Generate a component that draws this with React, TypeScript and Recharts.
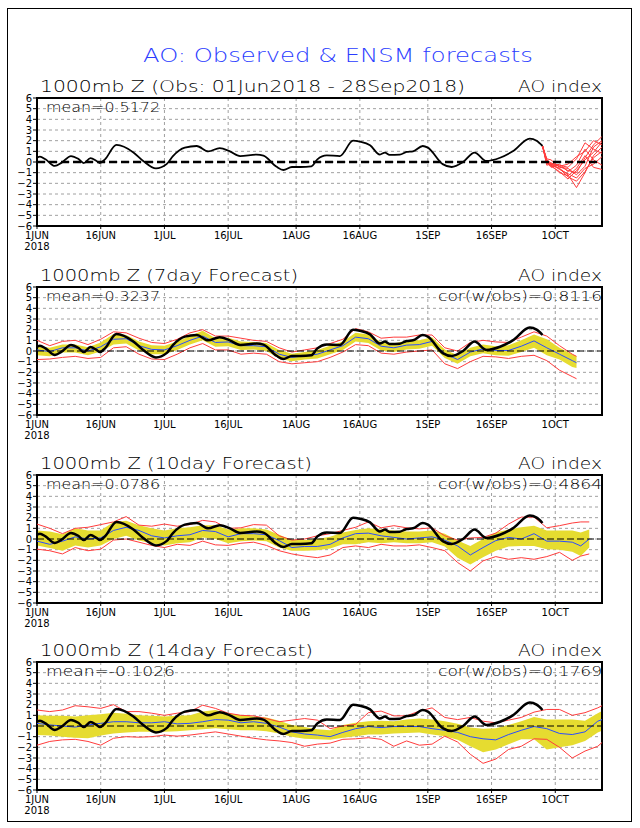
import React from 'react';
import { ComposedChart, Line, Area, XAxis, YAxis, CartesianGrid, ReferenceLine, ReferenceArea } from 'recharts';

// ---------- axes ----------
const X_TICK_DAYS = [0, 15, 30, 45, 61, 76, 92, 107, 122];
const X_TICK_LABELS = ['1JUN', '16JUN', '1JUL', '16JUL', '1AUG', '16AUG', '1SEP', '16SEP', '1OCT'];
const YEAR_LABEL = '2018';
const Y_TICKS = [-6, -5, -4, -3, -2, -1, 0, 1, 2, 3, 4, 5, 6];

// ---------- texts ----------
const MAIN_TITLE = 'AO: Observed & ENSM forecasts';
const PANEL_TITLES = ['1000mb Z (Obs: 01Jun2018 - 28Sep2018)', '1000mb Z (7day Forecast)', '1000mb Z (10day Forecast)', '1000mb Z (14day Forecast)'];
const INDEX_LABEL = 'AO index';
const MEAN_LABELS = ['mean=0.5172', 'mean=0.3237', 'mean=0.0786', 'mean=-0.1026'];
const COR_LABELS = ['', 'cor(w/obs)=0.8116', 'cor(w/obs)=0.4864', 'cor(w/obs)=0.1769'];

// ---------- observed AO (days since 1 Jun 2018) ----------
const OBS_DAYS = [0, 0.7, 2, 4.2, 5.8, 8, 9.7, 11, 12.6, 14, 14.8, 16, 18.7, 22.7, 25, 28, 30.5, 32, 34.8, 37.6, 40.3, 43, 45.4, 47.8, 51.7, 53.3, 56.4, 58, 60, 62, 64.6, 66, 68.2, 71.3, 74.4, 76, 78.4, 80.7, 81.9, 83, 85.4, 87, 88.5, 90.8, 92, 95.5, 97.6, 100.3, 103, 105.8, 109, 112, 116, 117.6, 119];
const OBS_VALUES = [0.4, 0.5, 0.25, -0.37, -0.06, 0.56, 0.3, -0.1, 0.37, 0.1, -0.1, 0.25, 1.6, 0.9, 0.1, -0.6, -0.2, 0.56, 1.35, 1.5, 1.0, 1.3, 1.0, 0.56, 0.7, 0.6, -0.45, -0.75, -0.47, -0.47, -0.4, 0.25, 0.62, 0.56, 2.0, 1.9, 1.56, 0.7, 0.88, 0.66, 0.69, 0.94, 1.0, 1.5, 1.35, -0.2, -0.47, 0.0, 0.88, 0.1, 0.4, 1.0, 2.2, 2.0, 1.5];

// ---------- ensemble members (top panel) ----------
const ENS_DAYS = [119, 120, 121, 123, 125, 127, 129, 131, 133];
const ENS_M1 = [1.5, 0.2, -0.2, -0.4, -0.8, -1.0, 0.4, 1.6, 2.4];
const ENS_M2 = [1.5, 0.0, -0.3, -0.6, -1.2, -2.4, -1.0, 0.6, 1.4];
const ENS_M3 = [1.5, -0.2, -0.1, -0.3, -0.5, 0.3, 1.8, 1.2, 0.8];
const ENS_M4 = [1.5, 0.1, -0.4, -0.9, -1.6, -0.8, 0.2, 0.9, 1.9];
const ENS_M5 = [1.5, -0.3, -0.2, -0.7, -1.1, -1.5, -0.6, -0.2, 0.5];
const ENS_M6 = [1.5, 0.0, -0.5, -0.2, -0.9, -0.3, 1.2, 0.2, -0.3];
const ENS_M7 = [1.5, 0.3, 0.2, -0.5, -0.6, -1.2, -0.4, 1.4, 2.0];
const ENS_M8 = [1.5, -0.1, -0.3, -1.0, -1.3, -0.6, 0.6, -0.5, -0.7];
const ENS_M9 = [1.5, 0.0, -0.2, -0.6, -1.4, -1.8, -0.9, 0.4, 1.0];
const ENS_M10 = [1.5, 0.2, -0.1, -0.4, -0.2, 0.5, 1.0, 2.0, 1.6];

// ---------- 7-day forecast ----------
const FC7_DAYS = [0, 3, 6, 9, 12, 15, 18, 21, 24, 27, 30, 33, 36, 39, 42, 45, 48, 51, 54, 57, 60, 63, 66, 69, 72, 75, 78, 81, 84, 87, 90, 93, 96, 99, 102, 105, 108, 111, 114, 117, 120, 123, 126, 127];
const FC7_MEAN = [0.1, -0.05, 0.3, 0.3, 0.0, 0.4, 1.1, 1.15, 0.5, 0.15, 0.1, 0.5, 1.0, 1.4, 0.8, 0.85, 0.5, 0.5, 0.4, -0.3, -0.6, -0.45, -0.3, 0.1, 0.5, 1.3, 1.15, 0.45, 0.3, 0.55, 0.6, 0.9, -0.25, -0.8, -0.1, 0.2, 0.05, 0.05, 0.45, 0.95, 0.3, -0.3, -0.9, -1.1];
const FC7_BAND_LO = [-0.4, -0.5, -0.15, -0.15, -0.4, -0.05, 0.6, 0.7, 0.05, -0.3, -0.3, 0.1, 0.6, 1.0, 0.4, 0.45, 0.1, 0.15, 0.0, -0.7, -0.95, -0.8, -0.7, -0.3, 0.1, 0.9, 0.75, 0.05, -0.1, 0.15, 0.2, 0.5, -0.65, -1.2, -0.5, -0.2, -0.4, -0.45, -0.1, 0.3, -0.4, -0.8, -1.5, -1.6];
const FC7_BAND_HI = [0.5, 0.3, 0.6, 0.6, 0.35, 0.8, 1.6, 1.5, 0.9, 0.55, 0.5, 0.9, 1.4, 1.9, 1.2, 1.25, 0.9, 0.85, 0.75, 0.1, -0.25, -0.1, 0.1, 0.5, 0.9, 1.7, 1.55, 0.85, 0.7, 0.95, 1.0, 1.3, 0.15, -0.4, 0.3, 0.6, 0.45, 0.55, 1.0, 1.55, 1.1, 0.3, -0.3, -0.5];
const FC7_RED_HI = [1.0, 0.5, 0.9, 1.0, 0.6, 1.1, 1.8, 1.7, 1.2, 0.8, 0.7, 1.1, 1.7, 2.0, 1.4, 1.4, 1.2, 1.0, 0.9, 0.3, -0.1, 0.1, 0.3, 0.7, 1.1, 2.1, 1.8, 1.2, 1.3, 1.3, 1.5, 1.5, 0.3, 0.0, 0.8, 1.0, 0.85, 0.8, 1.3, 1.8, 1.4, 0.5, -0.3, -0.5];
const FC7_RED_LO = [-0.8, -0.75, -0.6, -0.5, -0.7, -0.6, 0.3, 0.4, -0.3, -0.75, -0.8, -0.3, 0.3, 0.7, 0.1, 0.1, -0.3, -0.2, -0.3, -1.0, -1.2, -1.1, -1.0, -0.6, -0.1, 0.6, 0.5, -0.2, -0.3, -0.1, 0.0, 0.1, -1.2, -1.65, -1.0, -0.5, -0.55, -0.7, -0.5, -0.4, -0.9, -1.8, -2.4, -2.6];

// ---------- 10-day forecast ----------
const FC10_DAYS = [0, 3, 6, 9, 12, 15, 18, 21, 24, 27, 30, 33, 36, 39, 42, 45, 48, 51, 54, 57, 60, 63, 66, 69, 72, 75, 78, 81, 84, 87, 90, 93, 96, 99, 102, 105, 108, 111, 114, 117, 120, 123, 126, 128, 130];
const FC10_MEAN = [-0.2, -0.5, -0.2, 0.2, 0.0, 0.1, 0.8, 1.1, 0.8, 0.3, 0.1, 0.3, 0.4, 0.8, 0.7, 0.2, 0.5, 0.5, 0.4, -0.15, -0.8, -0.7, -0.7, -0.5, 0.1, 0.5, 0.55, 0.3, 0.15, 0.0, 0.1, 0.2, -0.1, -0.65, -1.5, -0.8, -0.15, 0.15, 0.0, 0.5, -0.2, -0.2, -0.3, -0.65, 0.0];
const FC10_BAND_LO = [-0.6, -0.85, -1.1, -0.6, -0.8, -0.6, 0.0, 0.3, -0.15, -0.4, -0.6, -0.4, -0.3, 0.15, 0.0, -0.4, -0.2, -0.15, -0.2, -0.8, -1.1, -1.1, -1.05, -0.9, -0.5, -0.5, -0.3, -0.4, -0.3, -0.4, -0.4, -0.3, -0.7, -1.75, -2.4, -1.7, -1.1, -0.7, -0.65, -0.65, -0.95, -1.0, -1.2, -1.6, -0.8];
const FC10_BAND_HI = [0.8, 0.7, 0.45, 1.0, 0.8, 0.8, 1.6, 1.7, 1.3, 1.0, 0.8, 1.0, 1.1, 1.3, 1.3, 0.9, 1.0, 1.0, 0.9, 0.4, -0.1, -0.1, 0.0, 0.2, 0.6, 0.85, 1.0, 0.9, 0.8, 0.7, 0.7, 0.8, 0.5, -0.15, -0.65, 0.0, 0.6, 0.9, 1.1, 1.25, 0.8, 0.8, 0.8, 0.6, 0.9];
const FC10_RED_HI = [1.4, 1.0, 0.5, 1.0, 1.1, 1.35, 1.6, 2.1, 1.3, 1.2, 1.4, 1.2, 1.35, 1.75, 1.6, 1.0, 1.05, 1.35, 1.3, 0.3, -0.1, 0.0, 0.3, 0.5, 0.8, 1.1, 1.6, 1.05, 1.25, 1.05, 0.95, 1.05, 0.3, -0.1, 0.1, 0.15, 0.55, 1.4, 2.05, 2.05, 1.05, 1.25, 1.5, 1.6, 1.6];
const FC10_RED_LO = [-0.95, -1.1, -1.4, -0.8, -1.1, -0.95, -0.1, 0.0, -0.3, -0.6, -0.8, -0.5, -0.6, -0.2, -0.55, -0.6, -0.4, -0.3, -0.6, -1.1, -1.4, -1.6, -1.75, -1.5, -0.8, -0.65, -0.8, -0.5, -0.65, -0.65, -0.55, -0.8, -1.1, -2.2, -3.0, -2.05, -1.65, -1.9, -1.75, -1.9, -1.65, -1.25, -2.0, -1.6, -1.4];

// ---------- 14-day forecast ----------
const FC14_DAYS = [0, 3, 6, 9, 12, 15, 18, 21, 24, 27, 30, 33, 36, 39, 42, 45, 48, 51, 54, 57, 60, 63, 66, 69, 72, 75, 78, 81, 84, 87, 90, 93, 96, 99, 102, 105, 108, 111, 114, 117, 120, 123, 126, 129, 132, 133];
const FC14_MEAN = [0.25, 0.1, 0.0, -0.1, 0.1, 0.25, 0.4, 0.4, 0.3, 0.3, 0.4, 0.2, 0.25, 0.4, 0.6, 0.55, 0.3, 0.4, 0.25, -0.1, -0.55, -0.75, -0.85, -1.0, -0.6, -0.25, -0.05, -0.15, -0.05, -0.05, -0.05, -0.25, -0.4, -0.6, -1.0, -1.2, -1.3, -0.8, -0.4, -0.05, -0.25, -0.7, -0.8, -0.55, 0.45, 0.6];
const FC14_BAND_LO = [-0.85, -0.9, -1.0, -1.1, -1.15, -0.9, -0.7, -0.6, -0.55, -0.55, -0.55, -0.5, -0.4, -0.3, -0.2, -0.3, -0.4, -0.4, -0.5, -0.7, -1.0, -1.2, -1.25, -1.3, -1.1, -0.95, -0.8, -0.8, -0.7, -0.65, -0.6, -0.8, -0.95, -1.3, -1.9, -2.45, -2.2, -1.7, -1.25, -1.25, -2.2, -2.0, -1.8, -1.4, -0.6, -0.45];
const FC14_BAND_HI = [1.0, 0.95, 0.95, 0.9, 1.0, 1.1, 1.25, 1.15, 1.0, 0.95, 0.9, 0.95, 1.0, 1.35, 1.5, 1.2, 1.0, 0.9, 0.8, 0.5, 0.1, -0.1, -0.3, -0.4, 0.1, 0.3, 0.45, 0.5, 0.45, 0.6, 0.7, 0.6, 0.45, 0.2, -0.15, -0.25, -0.2, 0.1, 0.45, 0.85, 0.6, 0.6, 0.6, 0.5, 1.2, 1.4];
const FC14_RED_HI = [1.5, 1.35, 1.5, 1.9, 1.8, 1.65, 2.0, 1.35, 1.35, 1.2, 1.0, 1.2, 1.35, 1.95, 1.65, 1.2, 1.0, 0.95, 0.7, 0.4, 0.55, 0.7, 0.55, -0.25, 0.0, 0.15, 1.25, 1.4, 0.95, 0.95, 1.4, 1.7, 0.8, 0.6, 0.8, 0.45, 0.3, 0.55, 0.8, 1.3, 1.55, 1.55, 1.0, 1.25, 1.7, 1.9];
const FC14_RED_LO = [-1.8, -1.45, -1.3, -1.25, -1.45, -1.8, -1.15, -1.0, -1.05, -1.0, -0.85, -0.95, -0.85, -0.7, -0.55, -0.75, -0.95, -1.15, -1.3, -1.4, -1.55, -1.9, -1.7, -1.6, -1.25, -1.2, -1.1, -1.25, -1.9, -1.4, -1.8, -1.7, -0.95, -1.5, -2.65, -3.5, -3.1, -2.2, -1.9, -1.2, -1.25, -2.0, -3.0, -2.35, -1.9, -1.55];

// ---------- colours / layout ----------
const YELLOW = '#e6dc30';
const RED = '#ff3c3c';
const BLUE = '#2a4cff';
const TITLE_BLUE = '#2a3cff';
const GRID = '#a0a0a0';
const FONT = "'DejaVu Sans', sans-serif";

const PANEL_TOPS = [98, 287, 475, 662];
const PLOT_H = 128;
const M_TOP = 20;
const XAXIS_H = 32;
const YAXIS_W = 37;
const M_RIGHT = 38;
const X_DOMAIN: [number, number] = [0, 133];

const OBS_ROWS = OBS_DAYS.map((day, i) => ({ day, obs: OBS_VALUES[i] }));
const ENS_ROWS = [ENS_M1, ENS_M2, ENS_M3, ENS_M4, ENS_M5, ENS_M6, ENS_M7, ENS_M8, ENS_M9, ENS_M10].map((m) =>
  ENS_DAYS.map((day, i) => ({ day, v: m[i] }))
);
const buildFc = (days: number[], mean: number[], lo: number[], hi: number[], rhi: number[], rlo: number[]) =>
  days.map((day, i) => ({ day, mean: mean[i], band: [lo[i], hi[i]], rhi: rhi[i], rlo: rlo[i] }));
const FC_ROWS = [
  buildFc(FC7_DAYS, FC7_MEAN, FC7_BAND_LO, FC7_BAND_HI, FC7_RED_HI, FC7_RED_LO),
  buildFc(FC10_DAYS, FC10_MEAN, FC10_BAND_LO, FC10_BAND_HI, FC10_RED_HI, FC10_RED_LO),
  buildFc(FC14_DAYS, FC14_MEAN, FC14_BAND_LO, FC14_BAND_HI, FC14_RED_HI, FC14_RED_LO),
];

const XTick = (props: any) => {
  const { x, y, payload } = props;
  const i = X_TICK_DAYS.indexOf(payload.value);
  return (
    <g>
      <text x={x} y={y + 7.5} textAnchor="middle" fontSize={10} fontFamily={FONT} fill="#000">
        {X_TICK_LABELS[i]}
      </text>
      {i === 0 && (
        <text x={x} y={y + 19} textAnchor="middle" fontSize={10} fontFamily={FONT} fill="#000">
          {YEAR_LABEL}
        </text>
      )}
    </g>
  );
};

const YTick = (props: any) => {
  const { x, y, payload } = props;
  const v = payload.value as number;
  const label = v < 0 ? '\u2212' + Math.abs(v) : String(v);
  return (
    <text x={x + 1} y={y + 3.6} textAnchor="end" fontSize={10} fontFamily={FONT} fill="#000">
      {label}
    </text>
  );
};

const axes = () => [
  <CartesianGrid key="g" stroke={GRID} strokeDasharray="3 3" />,
  <XAxis
    key="x"
    type="number"
    dataKey="day"
    domain={X_DOMAIN}
    ticks={X_TICK_DAYS}
    interval={0}
    allowDataOverflow
    height={XAXIS_H}
    axisLine={false}
    tickSize={3}
    tickLine={{ stroke: '#000' }}
    tick={<XTick />}
  />,
  <YAxis
    key="y"
    type="number"
    domain={[-6, 6]}
    ticks={Y_TICKS}
    interval={0}
    allowDataOverflow
    width={YAXIS_W}
    axisLine={false}
    tickSize={4}
    tickLine={{ stroke: '#000' }}
    tick={<YTick />}
  />,
];

const frame = (thickZero: boolean) => [
  <ReferenceLine
    key="z"
    y={0}
    stroke="#000"
    strokeWidth={thickZero ? 2.5 : 1}
    strokeDasharray={thickZero ? '8 4' : '7 3'}
    ifOverflow="visible"
  />,
  <ReferenceArea
    key="b"
    x1={X_DOMAIN[0]}
    x2={X_DOMAIN[1]}
    y1={-6}
    y2={6}
    fill="none"
    fillOpacity={0}
    stroke="#000"
    strokeWidth={2}
    ifOverflow="visible"
  />,
];

const chartBox = (top: number) => ({ position: 'absolute' as const, left: 0, top: top - M_TOP });
const CH = M_TOP + PLOT_H + XAXIS_H;
const MARGIN = { top: M_TOP, right: M_RIGHT, left: 0, bottom: 0 };

const ObsPanel = () => (
  <div style={chartBox(PANEL_TOPS[0])}>
    <ComposedChart width={640} height={CH} data={OBS_ROWS} margin={MARGIN}>
      {axes()}
      <Line dataKey="obs" type="monotone" stroke="#000" strokeWidth={1.8} dot={false} activeDot={false} isAnimationActive={false} />
      {ENS_ROWS.map((rows, k) => (
        <Line key={k} data={rows} dataKey="v" type="linear" stroke={RED} strokeWidth={1} dot={false} activeDot={false} isAnimationActive={false} />
      ))}
      {frame(true)}
    </ComposedChart>
  </div>
);

const FcPanel = ({ idx }: { idx: number }) => (
  <div style={chartBox(PANEL_TOPS[idx + 1])}>
    <ComposedChart width={640} height={CH} data={FC_ROWS[idx]} margin={MARGIN}>
      {axes()}
      <Area dataKey="band" type="linear" fill={YELLOW} fillOpacity={1} stroke="none" dot={false} activeDot={false} isAnimationActive={false} />
      <Line dataKey="rhi" type="linear" stroke={RED} strokeWidth={1} dot={false} activeDot={false} isAnimationActive={false} />
      <Line dataKey="rlo" type="linear" stroke={RED} strokeWidth={1} dot={false} activeDot={false} isAnimationActive={false} />
      <Line dataKey="mean" type="linear" stroke={BLUE} strokeWidth={1} dot={false} activeDot={false} isAnimationActive={false} />
      <Line data={OBS_ROWS} dataKey="obs" type="monotone" stroke="#000" strokeWidth={2.5} dot={false} activeDot={false} isAnimationActive={false} />
      {frame(false)}
    </ComposedChart>
  </div>
);

const Texts = () => (
  <svg width={640} height={828} style={{ position: 'absolute', left: 0, top: 0, pointerEvents: 'none' }}>
    <rect x={7.5} y={8.5} width={624} height={813} fill="none" stroke="#000" strokeWidth={1} />
    <text x={143} y={62} fontSize={20} fontWeight={300} fontFamily={FONT} fill={TITLE_BLUE} textLength={390} lengthAdjust="spacingAndGlyphs">
      {MAIN_TITLE}
    </text>
    {PANEL_TOPS.map((t, i) => (
      <g key={i}>
        <text x={40} y={t - 6} fontSize={15} fontWeight={300} fontFamily={FONT} fill="#000" textLength={[425, 258, 272, 273][i]} lengthAdjust="spacingAndGlyphs">
          {PANEL_TITLES[i]}
        </text>
        <text x={518} y={t - 6} fontSize={15} fontWeight={300} fontFamily={FONT} fill="#000" textLength={84} lengthAdjust="spacingAndGlyphs">
          {INDEX_LABEL}
        </text>
        <text x={46} y={t + 14} fontSize={13.5} fontWeight={300} fontFamily={FONT} fill="#000" textLength={i === 3 ? 129 : 114} lengthAdjust="spacingAndGlyphs">
          {MEAN_LABELS[i]}
        </text>
        {COR_LABELS[i] && (
          <text x={438} y={t + 14} fontSize={13.5} fontWeight={300} fontFamily={FONT} fill="#000" textLength={164} lengthAdjust="spacingAndGlyphs">
            {COR_LABELS[i]}
          </text>
        )}
      </g>
    ))}
  </svg>
);

export default function App() {
  return (
    <div style={{ position: 'absolute', left: 0, top: 0, width: 640, height: 828, background: '#fff', overflow: 'hidden' }}>
      <ObsPanel />
      <FcPanel idx={0} />
      <FcPanel idx={1} />
      <FcPanel idx={2} />
      <Texts />
    </div>
  );
}
